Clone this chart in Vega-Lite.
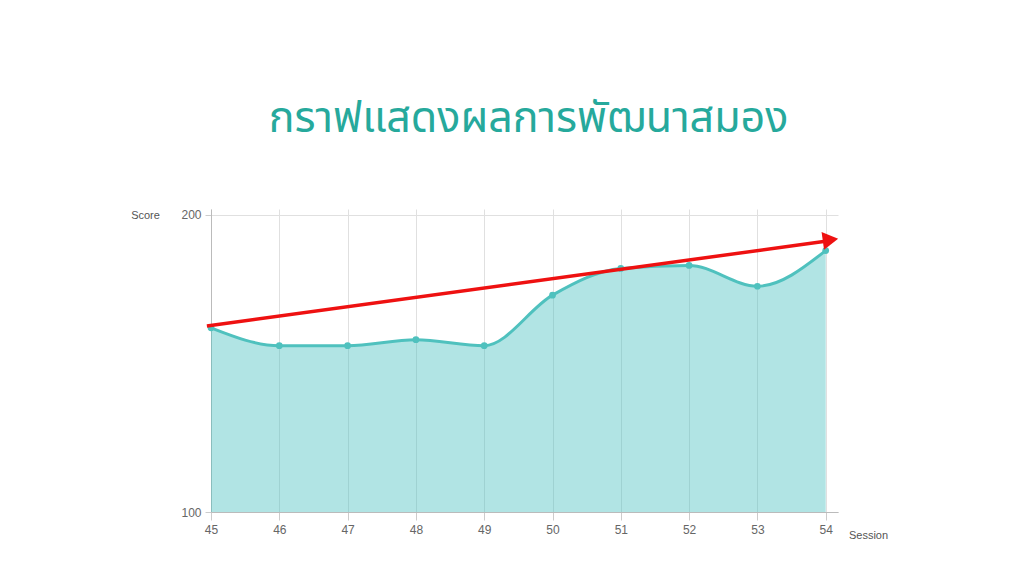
{
  "$schema": "https://vega.github.io/schema/vega-lite/v6.json",
  "width": 627,
  "height": 303,
  "autosize": "none",
  "padding": {"left": 211, "top": 209, "right": 186, "bottom": 64},
  "background": "white",
  "title": {
    "text": "กราฟแสดงผลการพัฒนาสมอง",
    "font": "Noto Sans Thai, Noto Sans, sans-serif",
    "fontSize": 43,
    "fontWeight": "normal",
    "color": "#26a99c",
    "anchor": "middle",
    "offset": 68,
    "dx": 4
  },
  "config": {
    "view": {"stroke": null},
    "axis": {
      "labelFont": "Liberation Sans, Arial, sans-serif",
      "titleFont": "Liberation Sans, Arial, sans-serif",
      "labelColor": "#666666",
      "titleColor": "#555555",
      "labelFontSize": 12,
      "titleFontSize": 11,
      "titleFontWeight": "normal",
      "labelFlush": false,
      "gridColor": "#e0e0e0",
      "tickColor": "#cccccc",
      "domainColor": "#bbbbbb"
    }
  },
  "datasets": {
    "scores": [
      {"session": 45, "score": 162},
      {"session": 46, "score": 156},
      {"session": 47, "score": 156},
      {"session": 48, "score": 158},
      {"session": 49, "score": 156},
      {"session": 50, "score": 173},
      {"session": 51, "score": 182},
      {"session": 52, "score": 183},
      {"session": 53, "score": 176},
      {"session": 54, "score": 188}
    ],
    "trend": [
      {"x0": 44.94, "y0": 162.6, "x1": 54.05, "y1": 191.3}
    ],
    "head": [
      {"x": 54.07, "y": 191.6}
    ]
  },
  "layer": [
    {
      "data": {"name": "scores"},
      "mark": {"type": "area", "interpolate": "monotone", "color": "#4bc0c0", "opacity": 0.43, "clip": true},
      "encoding": {
        "x": {
          "field": "session", "type": "quantitative",
          "scale": {"domain": [45, 54.18], "nice": false, "zero": false},
          "axis": {
            "values": [45, 46, 47, 48, 49, 50, 51, 52, 53, 54],
            "format": "d",
            "title": "Session",
            "titleAngle": 0,
            "titleX": 657,
            "titleY": 23,
            "titleAlign": "center",
            "titleBaseline": "middle",
            "tickSize": 8,
            "labelPadding": 4,
            "grid": true
          }
        },
        "y": {
          "field": "score", "type": "quantitative",
          "scale": {"domain": [100, 202], "nice": false, "zero": false},
          "axis": {
            "values": [100, 200],
            "title": "Score",
            "titleAngle": 0,
            "titleX": -66,
            "titleY": 6,
            "titleAlign": "center",
            "titleBaseline": "middle",
            "tickSize": 6,
            "labelPadding": 4,
            "grid": true
          }
        }
      }
    },
    {
      "data": {"name": "scores"},
      "mark": {"type": "line", "interpolate": "monotone", "color": "#4fc1be", "strokeWidth": 3},
      "encoding": {
        "x": {"field": "session", "type": "quantitative"},
        "y": {"field": "score", "type": "quantitative"}
      }
    },
    {
      "data": {"name": "scores"},
      "mark": {"type": "point", "filled": true, "color": "#4fc1be", "size": 45, "opacity": 1},
      "encoding": {
        "x": {"field": "session", "type": "quantitative"},
        "y": {"field": "score", "type": "quantitative"}
      }
    },
    {
      "data": {"name": "trend"},
      "mark": {"type": "rule", "color": "#ee1111", "strokeWidth": 3.5, "clip": false},
      "encoding": {
        "x": {"field": "x0", "type": "quantitative"},
        "y": {"field": "y0", "type": "quantitative"},
        "x2": {"field": "x1"},
        "y2": {"field": "y1"}
      }
    },
    {
      "data": {"name": "head"},
      "mark": {"type": "point", "shape": "triangle-right", "filled": true, "color": "#ee1111", "size": 320, "angle": 352, "opacity": 1, "clip": false},
      "encoding": {
        "x": {"field": "x", "type": "quantitative"},
        "y": {"field": "y", "type": "quantitative"}
      }
    }
  ]
}
